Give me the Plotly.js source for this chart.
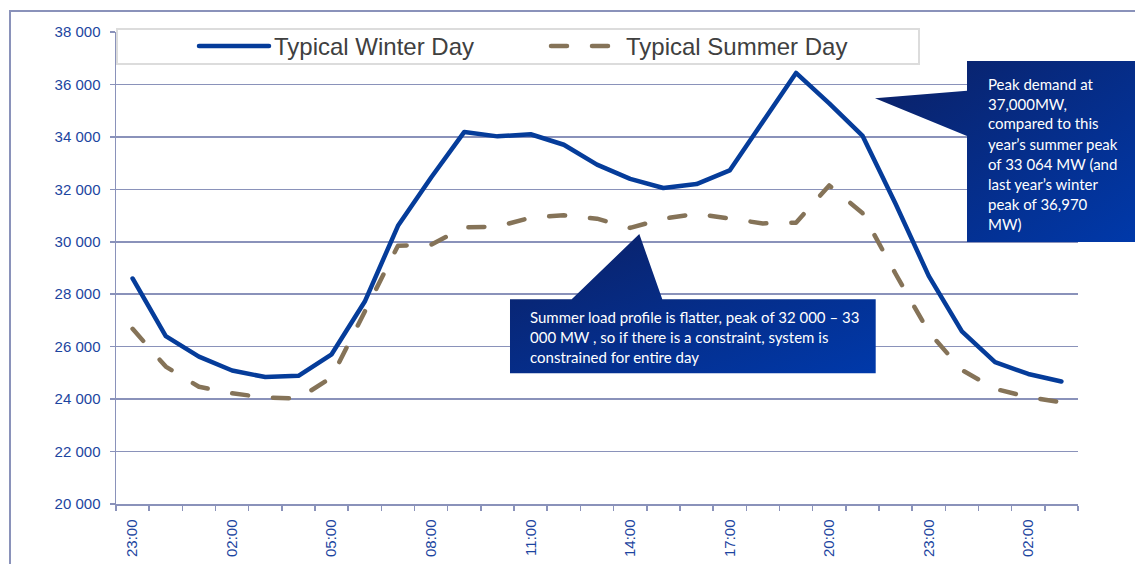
<!DOCTYPE html>
<html><head><meta charset="utf-8">
<script src="https://cdn.plot.ly/plotly-3.0.1.min.js"></script>
<style>
html,body{margin:0;padding:0;background:#fff;}
#chart{width:1135px;height:564px;}
path.js-line, .legendlines path { stroke-linecap: round; stroke-linejoin: round; }
</style>
</head><body><div id="chart"></div>
<script>
// ---- data ----
const hours = ["23:00","00:00","01:00","02:00","03:00","04:00","05:00","06:00","07:00","08:00",
  "09:00","10:00","11:00","12:00","13:00","14:00","15:00","16:00","17:00","18:00","19:00",
  "20:00","21:00","22:00","23:00","00:00","01:00","02:00","03:00"];
const winterMW = [28600,26400,25620,25090,24840,24890,25710,27720,30610,32450,
  34190,34020,34100,33700,32940,32400,32050,32200,32720,34580,36440,35280,34050,
  31450,28700,26580,25410,24960,24670];
const summerMW = [26680,25240,24470,24220,24060,24020,24830,27310,29850,29890,
  30550,30580,30920,31010,30880,30530,30880,31070,30900,30700,30730,32150,31100,
  28780,26560,25110,24390,24080,23880];
const seriesNames = ["Typical Winter Day","Typical Summer Day"];
const labelEvery = 3;

// ---- layout geometry (pixels) ----
const W = 1135, H = 564;
const M = {l:116, r:57, t:32, b:60};
const PW = W - M.l - M.r, PH = H - M.t - M.b;
const px = v => (v - M.l) / PW;
const py = v => (H - M.b - v) / PH;
function pathPx(pts){ return 'M' + pts.map(p => px(p[0]).toFixed(5) + ',' + py(p[1]).toFixed(5)).join('L') + 'Z'; }

const idx = hours.map((_, i) => i);
const tickvals = idx.filter(i => i % labelEvery === 0);
const ticktext = tickvals.map(i => hours[i]);
const bounds = idx.map(i => i - 0.5).concat([hours.length - 0.5]);

const gridCol = '#8a92ba';
const tickFontCol = '#1c45a0';
const winterCol = '#053c9a';
const summerCol = '#857358';
const boxCol = '#062d8c';

const traces = [
  {x: idx, y: winterMW, name: seriesNames[0], type:'scatter', mode:'lines',
   line:{color: winterCol, width:4.5}, legend:'legend'},
  {x: idx, y: summerMW, name: seriesNames[1], type:'scatter', mode:'lines',
   line:{color: summerCol, width:4.5, dash:'16px,25px'}, legend:'legend2'}
];

const legFont = {family:'"Liberation Sans", Arial, sans-serif', size:24, color:'#404040'};
const legCommon = {orientation:'h', bgcolor:'rgba(0,0,0,0)', borderwidth:0, font:legFont,
  itemwidth:70, yanchor:'middle', xanchor:'left', y: py(46.5)};

const annFont = {family:'Lato, "Noto Sans", sans-serif', size:15, color:'#ffffff'};
const box1Lines = ["Peak demand at","37,000MW,","compared to this","year\u2019s summer peak",
  "of 33 064 MW (and","last year\u2019s winter","peak of 36,970","MW)"];
const box2Lines = ["Summer load profile is flatter, peak of 32 000 \u2013 33",
  "000 MW , so if there is a constraint, system is","constrained for entire day"];
const annotations = [];
box1Lines.forEach((t, k) => annotations.push({xref:'paper', yref:'paper', x:px(986), y:py(83.5 + 20*k),
  xanchor:'left', yanchor:'middle', text:t, showarrow:false, font:annFont, align:'left'}));
box2Lines.forEach((t, k) => annotations.push({xref:'paper', yref:'paper', x:px(527.5), y:py(317 + 20*k),
  xanchor:'left', yanchor:'middle', text:t, showarrow:false, font:annFont, align:'left'}));

const shapes = [
  {type:'path', xref:'paper', yref:'paper', layer:'below',
   path: 'M' + px(10) + ',' + py(600) + 'L' + px(10) + ',' + py(11) + 'L' + px(1140) + ',' + py(11),
   line:{color:gridCol, width:2}},
  {type:'rect', xref:'paper', yref:'paper', layer:'above', x0:px(117), x1:px(919), y0:py(29), y1:py(64),
   fillcolor:'#ffffff', line:{color:'#dcdcdc', width:2}},
  {type:'path', xref:'paper', yref:'paper', layer:'above', fillcolor:boxCol, line:{width:0},
   path: pathPx([[967,61],[1136,61],[1136,242],[967,242],[967,136],[875,98.3],[967,90.7]])},
  {type:'path', xref:'paper', yref:'paper', layer:'above', fillcolor:boxCol, line:{width:0},
   path: pathPx([[510,299.3],[571.7,299.3],[639.3,234],[662.3,299.3],[875.7,299.3],[875.7,373.3],[510,373.3]])}
];

const layout = {
  width:W, height:H, margin:M, paper_bgcolor:'#ffffff', plot_bgcolor:'#ffffff',
  separators: '. ',
  showlegend:true,
  legend: Object.assign({}, legCommon, {x: px(194)}),
  legend2: Object.assign({}, legCommon, {x: px(546)}),
  xaxis:{type:'linear', range:[-0.5, hours.length - 0.5], tickmode:'array', tickvals, ticktext,
    tickangle:-90, ticks:'', showgrid:false, zeroline:false, showline:true, linecolor:gridCol, linewidth:1.5,
    tickfont:{family:'"Liberation Sans", Arial, sans-serif', size:15, color:tickFontCol},
    ticklabelstandoff:8,
    minor:{tickmode:'array', tickvals:bounds, ticks:'outside', ticklen:5, tickwidth:1.5, tickcolor:gridCol, showgrid:false}},
  yaxis:{range:[20000, 38000], dtick:2000, tick0:20000, tickformat:',d', showgrid:true, gridcolor:gridCol, gridwidth:1.5,
    zeroline:false, showline:true, linecolor:gridCol, linewidth:1.5, ticks:'outside', ticklen:5, tickwidth:1.5, tickcolor:gridCol,
    tickfont:{family:'"Liberation Sans", Arial, sans-serif', size:15, color:tickFontCol}, ticklabelstandoff:6},
  shapes, annotations
};

Plotly.newPlot('chart', traces, layout, {displayModeBar:false, staticPlot:true}).then(gd => {
  // diagonal gradient on the callout boxes, as in the original slide
  const ns = 'http://www.w3.org/2000/svg';
  const svg = gd.querySelector('svg.main-svg');
  let defs = svg.querySelector('defs');
  if (!defs) { defs = document.createElementNS(ns, 'defs'); svg.insertBefore(defs, svg.firstChild); }
  const lg = document.createElementNS(ns, 'linearGradient');
  lg.setAttribute('id', 'calloutGrad');
  lg.setAttribute('x1', '0'); lg.setAttribute('y1', '0'); lg.setAttribute('x2', '1'); lg.setAttribute('y2', '1');
  [['0%', '#0b2065'], ['100%', '#0039aa']].forEach(s => {
    const st = document.createElementNS(ns, 'stop');
    st.setAttribute('offset', s[0]); st.setAttribute('stop-color', s[1]); lg.appendChild(st);
  });
  defs.appendChild(lg);
  gd.querySelectorAll('.shapelayer path').forEach(p => {
    if ((p.style.fill || '').replace(/\s/g, '') === 'rgb(6,45,140)') p.style.fill = 'url(#calloutGrad)';
  });
});
</script>
</body></html>
